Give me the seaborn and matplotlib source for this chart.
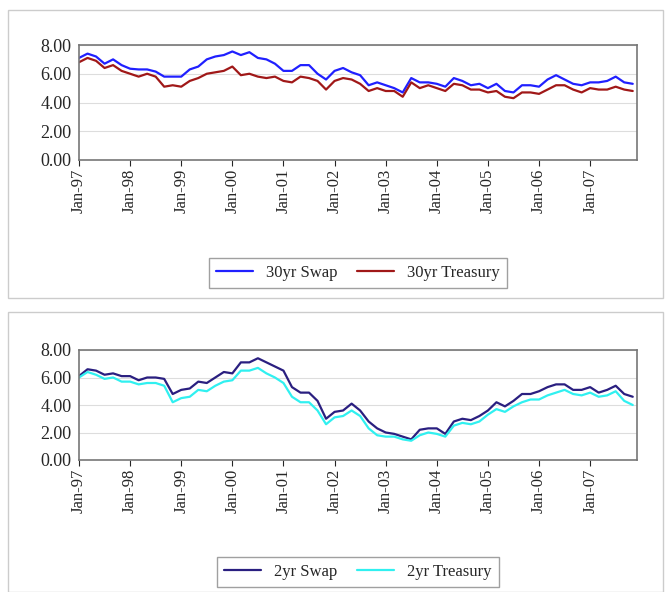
import numpy as np
import pandas as pd
import matplotlib
matplotlib.use('Agg')
import matplotlib.pyplot as plt
from matplotlib.patches import Rectangle
import seaborn as sns

# bimonthly readings, Jan-97 .. Nov-07
months = list(range(0, 132, 2))
swap30 = [7.1, 7.4, 7.2, 6.7, 7.0, 6.6, 6.35, 6.3, 6.3, 6.15, 5.8, 5.8,
          5.8, 6.3, 6.5, 7.0, 7.2, 7.3, 7.55, 7.3, 7.5, 7.1, 7.0, 6.7,
          6.2, 6.2, 6.6, 6.6, 6.0, 5.6, 6.2, 6.4, 6.1, 5.9, 5.2, 5.4,
          5.2, 5.0, 4.7, 5.7, 5.4, 5.4, 5.3, 5.1, 5.7, 5.5, 5.2, 5.3,
          5.0, 5.3, 4.8, 4.7, 5.2, 5.2, 5.1, 5.6, 5.9, 5.6, 5.3, 5.2,
          5.4, 5.4, 5.5, 5.8, 5.4, 5.3]
tsy30 = [6.8, 7.1, 6.9, 6.4, 6.6, 6.2, 6.0, 5.8, 6.0, 5.8, 5.1, 5.2,
         5.1, 5.5, 5.7, 6.0, 6.1, 6.2, 6.5, 5.9, 6.0, 5.8, 5.7, 5.8,
         5.5, 5.4, 5.8, 5.7, 5.5, 4.9, 5.5, 5.7, 5.6, 5.3, 4.8, 5.0,
         4.8, 4.8, 4.4, 5.4, 5.0, 5.2, 5.0, 4.8, 5.3, 5.2, 4.9, 4.9,
         4.7, 4.8, 4.4, 4.3, 4.7, 4.7, 4.6, 4.9, 5.2, 5.2, 4.9, 4.7,
         5.0, 4.9, 4.9, 5.1, 4.9, 4.8]
swap2 = [6.1, 6.6, 6.5, 6.2, 6.3, 6.1, 6.1, 5.8, 6.0, 6.0, 5.9, 4.8,
         5.1, 5.2, 5.7, 5.6, 6.0, 6.4, 6.3, 7.1, 7.1, 7.4, 7.1, 6.8,
         6.5, 5.3, 4.9, 4.9, 4.3, 3.0, 3.5, 3.6, 4.1, 3.6, 2.8, 2.3,
         2.0, 1.9, 1.7, 1.5, 2.2, 2.3, 2.3, 1.9, 2.8, 3.0, 2.9, 3.2,
         3.6, 4.2, 3.9, 4.3, 4.8, 4.8, 5.0, 5.3, 5.5, 5.5, 5.1, 5.1,
         5.3, 4.9, 5.1, 5.4, 4.8, 4.6]
tsy2 = [6.0, 6.4, 6.2, 5.9, 6.0, 5.7, 5.7, 5.5, 5.6, 5.6, 5.4, 4.2,
        4.5, 4.6, 5.1, 5.0, 5.4, 5.7, 5.8, 6.5, 6.5, 6.7, 6.3, 6.0,
        5.6, 4.6, 4.2, 4.2, 3.6, 2.6, 3.1, 3.2, 3.6, 3.2, 2.3, 1.8,
        1.7, 1.7, 1.5, 1.4, 1.8, 2.0, 1.9, 1.7, 2.5, 2.7, 2.6, 2.8,
        3.3, 3.7, 3.5, 3.9, 4.2, 4.4, 4.4, 4.7, 4.9, 5.1, 4.8, 4.7,
        4.9, 4.6, 4.7, 5.0, 4.3, 4.0]
tick_labels = ['Jan-%02d' % (y % 100) for y in range(97, 108)]

sns.set_style('white')
plt.rcParams['font.family'] = ['Liberation Serif', 'DejaVu Serif']

fig = plt.figure(figsize=(6.71, 5.92), dpi=100)
W, H = 671, 592
for y0, y1 in [(10, 298), (312, 592)]:
    fig.patches.append(Rectangle((8 / W, 1 - y1 / H), 655 / W, (y1 - y0) / H,
                                 transform=fig.transFigure, fill=False,
                                 ec='#cccccc', lw=1))

panels = [
    (swap30, tsy30, '30yr Swap', '30yr Treasury', '#2020ff', '#a01818', 45, 160, 273),
    (swap2, tsy2, '2yr Swap', '2yr Treasury', '#2a1f80', '#30f0f0', 350, 460, 572),
]
for s, t, ls, lt, cs, ct, top, bot, leg_y in panels:
    ax = fig.add_axes([79 / W, 1 - bot / H, 558 / W, (bot - top) / H])
    df = pd.DataFrame({'month': months * 2, 'rate': s + t,
                       'series': [ls] * len(s) + [lt] * len(t)})
    sns.lineplot(data=df, x='month', y='rate', hue='series',
                 palette={ls: cs, lt: ct}, lw=1.6, ax=ax)
    ax.set_xlim(0, 131)
    ax.set_ylim(0, 8)
    ax.set_yticks([0, 2, 4, 6, 8])
    ax.set_yticklabels(['%.2f' % v for v in [0, 2, 4, 6, 8]], fontsize=13)
    ax.set_xticks(range(0, 121, 12))
    ax.set_xticklabels(tick_labels, rotation=90, fontsize=12)
    ax.tick_params(axis='x', length=4, direction='out', bottom=True, pad=2)
    ax.tick_params(axis='y', pad=2)
    ax.grid(axis='y', color='#dddddd', lw=0.8)
    ax.set_xlabel('')
    ax.set_ylabel('')
    for sp in ax.spines.values():
        sp.set_color('#777777')
        sp.set_linewidth(1.2)
    ax.legend(loc='center', bbox_to_anchor=(0.5, 1 - (leg_y - top) / (bot - top)),
              ncol=2, fontsize=12, frameon=True, fancybox=False,
              edgecolor='#888888', handlelength=2.2, columnspacing=1.2,
              borderpad=0.4)

fig.savefig('out.png', dpi=100)
